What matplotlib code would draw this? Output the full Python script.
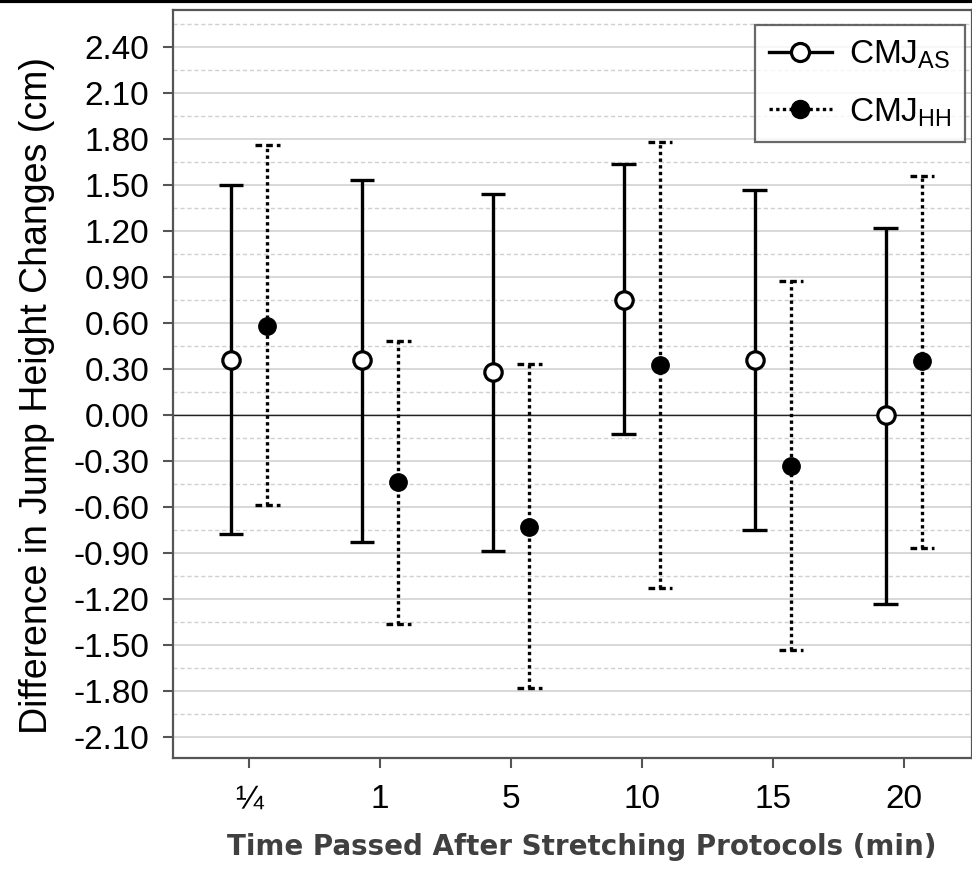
import matplotlib
matplotlib.use('Agg')
import matplotlib.pyplot as plt
from matplotlib.lines import Line2D
import numpy as np

#region Data

time_labels = ['\u00bc', '1', '5', '10', '15', '20']

as_mean = [0.36, 0.36, 0.28, 0.75, 0.36, 0.00]
as_upper = [1.50, 1.53, 1.44, 1.635, 1.47, 1.22]
as_lower = [-0.776, -0.826, -0.887, -0.126, -0.75, -1.23]

hh_mean = [0.58, -0.44, -0.73, 0.326, -0.33, 0.35]
hh_upper = [1.76, 0.485, 0.33, 1.78, 0.874, 1.56]
hh_lower = [-0.587, -1.36, -1.78, -1.13, -1.53, -0.87]

y_ticks = [-2.10, -1.80, -1.50, -1.20, -0.90, -0.60, -0.30, 0.00,
           0.30, 0.60, 0.90, 1.20, 1.50, 1.80, 2.10, 2.40]

#endregion

#region Figure set-up

plt.rcParams['font.family'] = ['Liberation Sans', 'DejaVu Sans']
plt.rcParams['mathtext.fontset'] = 'custom'
plt.rcParams['mathtext.rm'] = 'Liberation Sans'

fig = plt.figure(figsize=(9.72, 8.69), dpi=100)
ax = fig.add_axes([0.178, 0.1277, 0.822, 0.8608])

x = np.arange(len(time_labels))
off = 0.138
cap = 0.095
lw = 2.4

#endregion

#region Grid and axes

for v in y_ticks:
    ax.axhline(v, color='#d6d6d6', lw=1.3, zorder=0)
for v in np.arange(-2.25, 2.6, 0.3):
    ax.axhline(v, color='#d0d0d0', lw=1.0, ls=(0, (3, 2)), zorder=0)
ax.axhline(0, color='#222222', lw=1.0, zorder=1)

#endregion

#region Error bars

xa = x - off
xh = x + off

ax.vlines(xa, as_lower, as_upper, colors='black', lw=lw, zorder=3)
ax.hlines(as_upper, xa - cap, xa + cap, colors='black', lw=lw, zorder=3)
ax.hlines(as_lower, xa - cap, xa + cap, colors='black', lw=lw, zorder=3)
ax.plot(xa, as_mean, 'o', ms=12.5, mfc='white', mec='black', mew=2.3, zorder=4)

ax.vlines(xh, hh_lower, hh_upper, colors='black', lw=lw, linestyles=(0, (1, 1)), zorder=3)
ax.hlines(hh_upper, xh - cap, xh + cap, colors='black', lw=lw, linestyles=(0, (2, 1.2)), zorder=3)
ax.hlines(hh_lower, xh - cap, xh + cap, colors='black', lw=lw, linestyles=(0, (2, 1.2)), zorder=3)
ax.plot(xh, hh_mean, 'o', ms=12.5, mfc='black', mec='black', zorder=4)

#endregion

#region Axis formatting

ax.set_xlim(-0.581, 5.52)
ax.set_ylim(-2.237, 2.641)
ax.set_xticks(x)
ax.set_xticklabels(time_labels)
ax.set_yticks(y_ticks)
ax.set_yticklabels(['%.2f' % v for v in y_ticks])
ax.tick_params(axis='both', labelsize=24, colors='#555555', labelcolor='black',
               length=7, width=1.5)
ax.tick_params(axis='y', pad=10)
ax.tick_params(axis='x', pad=12)

for s in ax.spines.values():
    s.set_color('#555555')
    s.set_linewidth(1.6)

ax.set_ylabel('Difference in Jump Height Changes (cm)', fontsize=27)
ax.yaxis.set_label_coords(-0.148, 0.485)
ax.set_xlabel('Time Passed After Stretching Protocols (min)', fontsize=20,
              family='DejaVu Sans', fontweight='bold', color='#404040')
ax.xaxis.set_label_coords(0.511, -0.1)

handles = [
    Line2D([], [], color='black', lw=lw, marker='o', ms=13, mfc='white', mec='black', mew=2.3),
    Line2D([], [], color='black', lw=lw, ls=(0, (1, 1)), marker='o', ms=13, mfc='black', mec='black'),
]
leg = ax.legend(handles, ['CMJ$_{\\mathrm{AS}}$', 'CMJ$_{\\mathrm{HH}}$'], loc='upper right',
                fontsize=24, frameon=True, fancybox=False, handlelength=1.9,
                borderpad=0.4, labelspacing=0.75, handletextpad=0.5,
                borderaxespad=0, bbox_to_anchor=(0.991, 0.98))
leg.get_frame().set_edgecolor('#444444')
leg.get_frame().set_linewidth(1.6)

fig.add_artist(Line2D([0, 1], [0.999, 0.999], transform=fig.transFigure, color='black', lw=3))

#endregion

fig.savefig('out.png', dpi=100)
